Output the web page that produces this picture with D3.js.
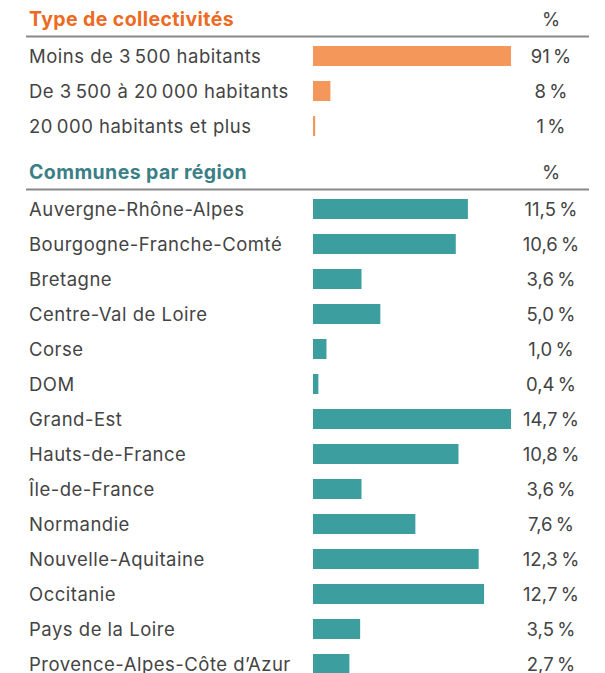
<!DOCTYPE html>
<html>
<head>
<meta charset="utf-8">
<script src="https://cdn.jsdelivr.net/npm/d3@7"></script>
<style>
  body { margin: 0; background: #fff; }
  text { font-family: Inter, "Noto Sans", sans-serif; }
</style>
</head>
<body>
<svg width="605" height="673"></svg>
<script>
var svg = d3.select("svg");

// data
var typeLabels = ["Moins de 3\u202F500 habitants", "De 3\u202F500 à 20\u202F000 habitants", "20\u202F000 habitants et plus"];
var typeValues = [91, 8, 1];

var regionLabels = ["Auvergne-Rhône-Alpes", "Bourgogne-Franche-Comté", "Bretagne", "Centre-Val de Loire",
    "Corse", "DOM", "Grand-Est", "Hauts-de-France", "Île-de-France", "Normandie",
    "Nouvelle-Aquitaine", "Occitanie", "Pays de la Loire", "Provence-Alpes-Côte d’Azur"];
var regionValues = [11.5, 10.6, 3.6, 5.0, 1.0, 0.4, 14.7, 10.8, 3.6, 7.6, 12.3, 12.7, 3.5, 2.7];

var fr = d3.formatLocale({decimal: ",", thousands: "\u202F", grouping: [3], currency: ["", " €"]});

var rowStep = 35,
    barLeft = 313,
    barRight = 511,
    valueX = 551,
    labelX = 29;

function section(opts) {
    var g = svg.append("g");
    var rows = opts.labels.map(function(l, i) { return {label: l, value: opts.values[i]}; });

    var y = d3.scaleBand()
        .domain(opts.labels)
        .range([opts.top, opts.top + rowStep * rows.length])
        .paddingInner(15 / 35)
        .paddingOuter(7.5 / 35);

    var x = d3.scaleLinear()
        .domain([0, opts.max])
        .range([barLeft, barRight]);

    // title
    g.append("text")
        .attr("x", labelX)
        .attr("y", opts.top - 13)
        .attr("fill", opts.titleColor)
        .attr("font-size", 19.5)
        .attr("font-weight", 700)
        .attr("letter-spacing", 0.4)
        .text(opts.title);

    g.append("text")
        .attr("x", valueX)
        .attr("y", opts.top - 13)
        .attr("text-anchor", "middle")
        .attr("fill", "#444")
        .attr("font-size", 18.5)
        .text("%");

    g.append("line")
        .attr("x1", 26).attr("x2", 589)
        .attr("y1", opts.top - 2).attr("y2", opts.top - 2)
        .attr("stroke", "#888")
        .attr("stroke-width", 2);

    var row = g.selectAll("g.row")
        .data(rows)
        .enter().append("g")
        .attr("class", "row");

    row.append("text")
        .attr("x", labelX)
        .attr("y", function(d) { return y(d.label) + y.bandwidth() / 2; })
        .attr("dy", "0.36em")
        .attr("fill", "#444")
        .attr("font-size", 18.5)
        .attr("letter-spacing", 0.5)
        .text(function(d) { return d.label; });

    row.append("rect")
        .attr("x", x(0))
        .attr("y", function(d) { return y(d.label); })
        .attr("width", function(d) { return x(d.value) - x(0); })
        .attr("height", y.bandwidth())
        .attr("fill", opts.barColor);

    row.append("text")
        .attr("x", valueX)
        .attr("y", function(d) { return y(d.label) + y.bandwidth() / 2; })
        .attr("dy", "0.36em")
        .attr("text-anchor", "middle")
        .attr("fill", "#444")
        .attr("font-size", 18.5)
        .attr("letter-spacing", 0.3)
        .text(function(d) { return fr.format(opts.fmt)(d.value) + "\u202F%"; });
}

section({
    title: "Type de collectivités",
    titleColor: "#ec6a22",
    barColor: "#f4975a",
    labels: typeLabels,
    values: typeValues,
    max: 91,
    fmt: ".0f",
    top: 38.5
});

section({
    title: "Communes par région",
    titleColor: "#3b7f87",
    barColor: "#3d9ea0",
    labels: regionLabels,
    values: regionValues,
    max: 14.7,
    fmt: ".1f",
    top: 191.5
});
</script>
</body>
</html>
